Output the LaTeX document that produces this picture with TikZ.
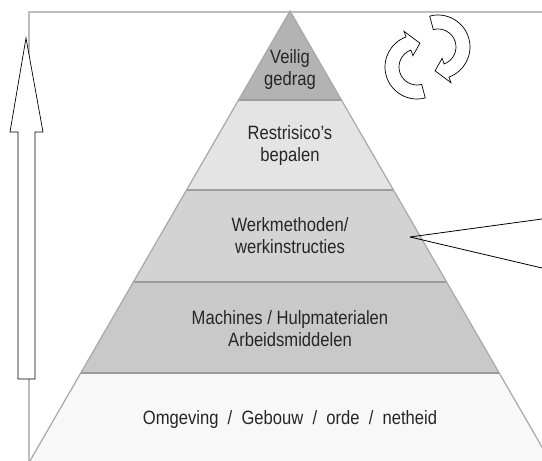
\documentclass[tikz,border=0pt]{standalone}
\usepackage{fontspec}
\setmainfont{Liberation Sans}[FakeStretch=0.86]
\definecolor{frameg}{HTML}{BDBDBD}
\definecolor{edgeg}{HTML}{A8A8A8}
\definecolor{sepg}{HTML}{9C9C9C}
\definecolor{tA}{HTML}{B3B3B3}
\definecolor{tB}{HTML}{E4E4E4}
\definecolor{tC}{HTML}{D3D3D3}
\definecolor{tD}{HTML}{C9C9C9}
\definecolor{tE}{HTML}{F8F8F8}
\definecolor{txtg}{HTML}{262626}
\begin{document}
\begin{tikzpicture}[x=1pt,y=-1pt,
  lbl/.style={align=center, text=txtg, inner sep=0pt,
    font=\fontsize{19.3}{22}\selectfont},
  framel/.style={draw=frameg, line width=2pt},
  sepl/.style={draw=sepg, line width=1.6pt},
  edgel/.style={draw=edgeg, line width=1.2pt},
  outl/.style={draw=black, line width=0.7pt, fill=white, line join=miter},
  callout/.style={draw=black, line width=0.8pt},
  cyc/.pic={
    \path[outl] (75:32) arc[start angle=75, end angle=250, radius=32]
      -- (250:38) -- (277:24) -- (250:12) -- (250:18)
      arc[start angle=250, end angle=75, radius=18] -- cycle;
  }]
\useasboundingbox (0,0) rectangle (542,461);
\clip (0,0) rectangle (542,461);
\fill[white] (0,0) rectangle (542,461);
% frame
\draw[framel] (29,461) -- (29,12) -- (542,12);
% pyramid corner points
\coordinate (apex) at (290,11);
\coordinate (l1) at (238.6,100); \coordinate (r1) at (341.4,100);
\coordinate (l2) at (186.5,190); \coordinate (r2) at (393.5,190);
\coordinate (l3) at (133.4,282); \coordinate (r3) at (446.6,282);
\coordinate (l4) at (80.8,373);  \coordinate (r4) at (499.2,373);
\coordinate (l5) at (29.9,461);  \coordinate (r5) at (550.1,461);
% tiers
\fill[tA] (apex) -- (r1) -- (l1) -- cycle;
\fill[tB] (l1) -- (r1) -- (r2) -- (l2) -- cycle;
\fill[tC] (l2) -- (r2) -- (r3) -- (l3) -- cycle;
\fill[tD] (l3) -- (r3) -- (r4) -- (l4) -- cycle;
\fill[tE] (l4) -- (r4) -- (r5) -- (l5) -- cycle;
\draw[sepl] (l1) -- (r1);
\draw[sepl] (l2) -- (r2);
\draw[sepl] (l3) -- (r3);
\draw[sepl] (l4) -- (r4);
\draw[edgel] (l5) -- (apex) -- (r5);
% labels
\node[lbl] (t1) at (290,70) {Veilig\\gedrag};
\node[lbl] (t2) at (290,146) {Restrisico’s\\bepalen};
\node[lbl] (t3) at (290,236) {Werkmethoden/\\werkinstructies};
\node[lbl] (t4) at (290,329) {Machines / Hulpmaterialen\\Arbeidsmiddelen};
\node[lbl] (t5) at (290,420) {Omgeving \ / \ Gebouw \ / \ orde \ / \ netheid};
% left upward block arrow
\path[outl] (26,38) -- (43,132) -- (35,132) -- (35,379) -- (18,379)
  -- (18,132) -- (10,132) -- cycle;
% cycle arrows
\pic at (417,67) {cyc};
\pic[rotate=180] at (438,47) {cyc};
% callout
\coordinate (cp) at (410,237);
\coordinate (ce1) at (542,219);
\coordinate (ce2) at (542,268);
\draw[callout] (cp) -- (ce1);
\draw[callout] (cp) -- (ce2);
\end{tikzpicture}
\end{document}
